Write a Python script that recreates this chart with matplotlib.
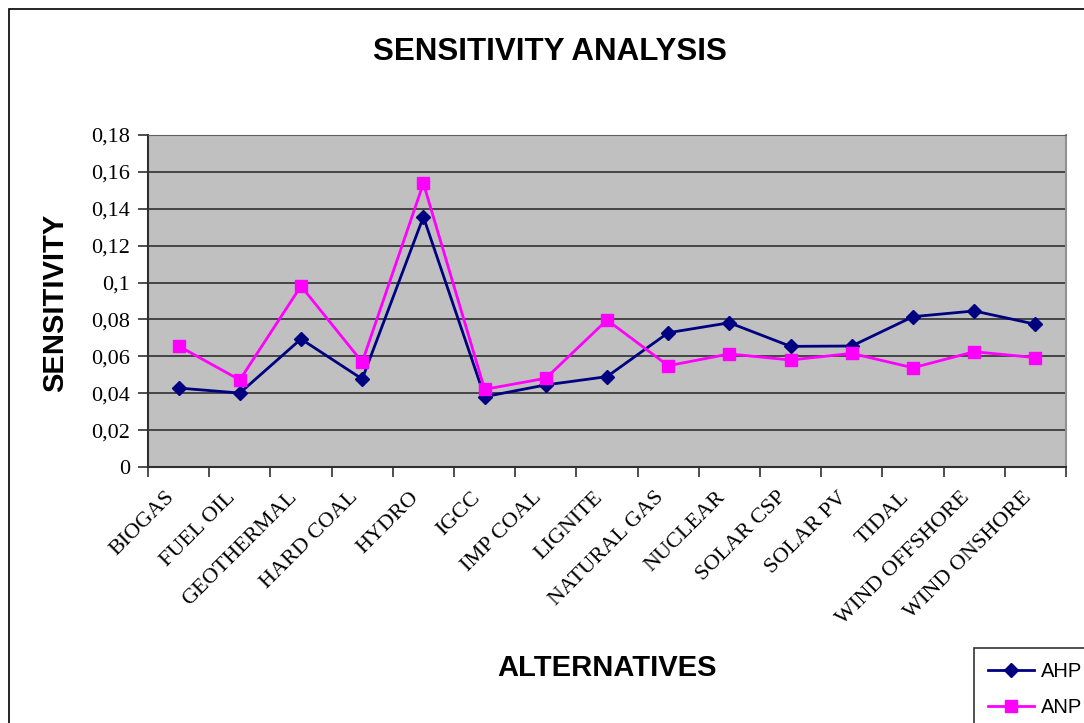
import matplotlib
matplotlib.use("Agg")
import matplotlib.pyplot as plt
import numpy as np
from matplotlib.patches import Rectangle

alternatives = ["BIOGAS", "FUEL OIL", "GEOTHERMAL", "HARD COAL", "HYDRO", "IGCC",
                "IMP COAL", "LIGNITE", "NATURAL GAS", "NUCLEAR", "SOLAR CSP",
                "SOLAR PV", "TIDAL", "WIND OFFSHORE", "WIND ONSHORE"]
ahp = [0.0428, 0.0401, 0.0694, 0.0477, 0.1356, 0.0381, 0.0445, 0.0490,
       0.0728, 0.0782, 0.0654, 0.0656, 0.0815, 0.0846, 0.0774]
anp = [0.0656, 0.0472, 0.0981, 0.0569, 0.1538, 0.0421, 0.0481, 0.0797,
       0.0549, 0.0613, 0.0580, 0.0616, 0.0538, 0.0625, 0.0593]
yticks = [0, 0.02, 0.04, 0.06, 0.08, 0.1, 0.12, 0.14, 0.16, 0.18]
ytick_labels = ["0", "0,02", "0,04", "0,06", "0,08", "0,1", "0,12", "0,14", "0,16", "0,18"]

W, H = 1084, 723
fig = plt.figure(figsize=(W / 100, H / 100), dpi=100)

# chart border (runs past the right and bottom edges)
fig.patches.append(Rectangle((9 / W, -0.1), 1.2, 1.1 - 9 / H, transform=fig.transFigure,
                             fill=False, edgecolor="black", linewidth=1.2))

ax = fig.add_axes([148 / W, 1 - 467 / H, (1066 - 148) / W, (467 - 135) / H])
ax.set_facecolor("#C0C0C0")

x = np.arange(len(alternatives))
ax.plot(x, ahp, color="#000080", linewidth=2, marker="D", markersize=7.2,
        markerfacecolor="#000080", markeredgecolor="#000080", label="AHP", zorder=3)
ax.plot(x, anp, color="#FF00FF", linewidth=2, marker="s", markersize=8.3,
        markerfacecolor="#FF00FF", markeredgecolor="#FF00FF", label="ANP", zorder=3)

ax.set_xlim(-0.5, len(alternatives) - 0.5)
ax.set_ylim(0, 0.18)

ax.set_yticks(yticks)
ax.set_yticklabels(ytick_labels, fontfamily="Liberation Serif", fontsize=16)
ax.yaxis.grid(True, color="#3a3a3a", linewidth=1.3)
ax.set_axisbelow(True)
ax.tick_params(axis="y", direction="out", length=7, width=1.2, color="#303030", pad=6)

ax.set_xticks(x)
ax.set_xticklabels([])
ax.set_xticks(np.arange(-0.5, len(alternatives)), minor=True)
ax.tick_params(axis="x", which="major", length=0)
ax.tick_params(axis="x", which="minor", direction="out", length=7, width=1.2, color="#303030")
for xi, name in zip(x, alternatives):
    ax.annotate(name, xy=(xi, 0), xycoords="data", xytext=(-5, -20), textcoords="offset points",
                rotation=45, rotation_mode="anchor", ha="right", va="center",
                fontfamily="Liberation Serif", fontsize=16)

for side in ["left", "bottom"]:
    ax.spines[side].set_color("#303030")
    ax.spines[side].set_linewidth(1.5)
ax.spines["top"].set_color("#606060")
ax.spines["right"].set_color("#909090")
ax.spines["right"].set_linewidth(1.5)

fig.text(550 / W, 1 - 52 / H, "SENSITIVITY ANALYSIS", ha="center", va="center",
         fontfamily="Liberation Sans", fontweight="bold", fontsize=22.5)
fig.text(55 / W, 1 - 303 / H, "SENSITIVITY", ha="center", va="center", rotation=90,
         fontfamily="Liberation Sans", fontweight="bold", fontsize=21)
fig.text(607 / W, 1 - 668 / H, "ALTERNATIVES", ha="center", va="center",
         fontfamily="Liberation Sans", fontweight="bold", fontsize=21)

leg = fig.legend(loc="upper left", bbox_to_anchor=(974 / W, 1 - 648 / H),
                 borderaxespad=0, prop={"family": "Liberation Sans", "size": 14.5},
                 frameon=True, fancybox=False, borderpad=0.7, handlelength=2.3,
                 handletextpad=0.3, labelspacing=0.85)
leg.get_frame().set_edgecolor("black")
leg.get_frame().set_linewidth(1.2)

fig.savefig("out.png", dpi=100)
